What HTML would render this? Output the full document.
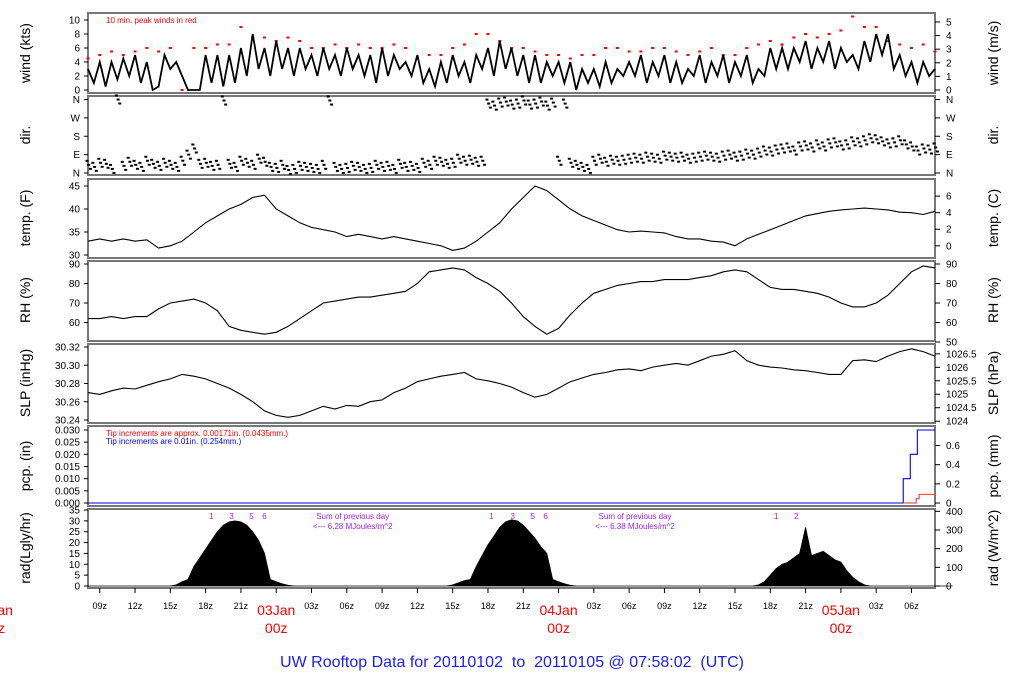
<!DOCTYPE html>
<html><head><meta charset="utf-8">
<style>
html,body{margin:0;padding:0;background:#fff;}
svg{display:block;font-family:"Liberation Sans",sans-serif;}
</style></head>
<body>
<svg id="chart" width="1024" height="700" viewBox="0 0 1024 700" xmlns="http://www.w3.org/2000/svg">
<rect x="0" y="0" width="1024" height="700" fill="#fff"/>
<g id="g"></g>
<text x="512" y="667" text-anchor="middle" font-size="16" fill="#1a1aff" style="white-space:pre" xml:space="preserve">UW Rooftop Data for 20110102  to  20110105 @ 07:58:02  (UTC)</text>
</svg>
<script>
// ---- data ----
const hourLabels = ["09z","12z","15z","18z","21z","00z","03z","06z","09z","12z","15z","18z","21z","00z","03z","06z","09z","12z","15z","18z","21z","00z","03z","06z"];
const dayLabels = ["02Jan","03Jan","04Jan","05Jan"];
const windKts = [3,1,4,0.5,4,1.5,4.5,2,5,1,4,0,0.5,5,3,4,2,0,0,0,5,
1,5,0.5,5,1,6,2,
8,3,6,2,7,3,6,2,6,3,5,2,6,
3,5,2,6,3,5,2,5,1,6,2,5,3,4,2,5,
1,3,0.5,4,1,5,2,4,1,5,3,6,
2,7,3,6,2,5,1,5,1,4,2,4,
1,4,0,3,1,3,0.5,4,1,3,2,4,
2,5,1,4,2,5,1,4,1,3,2,5,1,4,2,5,
1,4,2,5,1,3,2,6,3,6,
3,6,4,7,3,6,4,7,3,6,4,5,3,7,4,8,5,8,
3,5,2,4,1,4,2,3];
const gustKts = [4.5,5,5.5,5,5.5,6,5.5,6,0,6,6,
6.5,6.5,9,7.5,
7.5,7,7.5,7,6,6,
6.5,6,6.5,6,6,6.5,6,
4.5,5,5,6,6.5,8,
8,7,6,6,5.5,5,
5,4.5,5,5,6,6,5.5,
5.5,6,6,5.5,5,5.5,6,5,
5,6,6.5,7,6.5,
7.5,8,7.5,8,8.5,10.5,9,
9,7,6.5,6,6.5,5.5];
const dirDeg = [40,30,50,45,20,360,35,55,40,30,60,45,35,50,40,30,60,90,120,45,50,35,40,355,45,30,60,50,40,70,55,
30,25,40,15,20,35,30,25,20,40,355,30,20,25,35,30,20,25,40,30,35,20,45,30,35,25,
50,40,60,55,45,50,70,60,65,55,60,340,330,345,350,335,340,355,
335,340,350,330,345,60,340,50,40,30,20,60,70,55,65,60,
65,70,75,70,80,75,70,85,80,75,80,70,75,80,85,80,75,85,90,80,
85,95,90,100,110,105,115,120,125,110,130,135,125,140,130,145,150,135,140,155,
150,160,170,165,155,145,150,160,140,130,110,120,115,125];
const tempF = [33,33.5,33,33.5,33,33.3,31.5,32,33,35,37,38.5,40,41,42.5,43,40,38.5,37,36,35.5,35,34,34.5,34,33.5,34,33.5,33,32.5,32,31,31.5,33,35,37,40,42.5,45,44,42,40,38.5,37.5,36.5,35.5,35,35.2,35,34.8,34,33.5,33.5,33,32.8,32,33.5,34.5,35.5,36.5,37.5,38.5,39,39.5,39.8,40,40.2,40,39.8,39.3,39.2,38.8,39.5];
const rhPct = [62,62,63,62,63,63,67,70,71,72,70,66,58,56,55,54,55,58,62,66,70,71,72,73,73,74,75,76,80,86,87,88,87,83,80,76,70,63,58,54,57,64,70,75,77,79,80,81,81,82,82,82,83,84,86,87,86,82,78,77,77,76,75,73,70,68,68,70,74,80,86,89,88];
const slpInHg = [30.27,30.268,30.272,30.275,30.274,30.278,30.282,30.285,30.29,30.288,30.285,30.28,30.275,30.268,30.26,30.25,30.245,30.243,30.245,30.25,30.255,30.252,30.256,30.255,30.26,30.262,30.27,30.275,30.282,30.285,30.288,30.29,30.292,30.285,30.283,30.28,30.276,30.27,30.265,30.268,30.275,30.282,30.286,30.29,30.292,30.295,30.296,30.294,30.298,30.3,30.302,30.3,30.305,30.31,30.312,30.316,30.305,30.3,30.298,30.297,30.295,30.294,30.292,30.29,30.29,30.305,30.306,30.304,30.31,30.315,30.318,30.315,30.31];
const tipHoursBlue = [69.3,69.9,70.5];
const tipHoursRed = [70.4,70.65];
const tipRedMm = [0.045,0.045];
const radLgly = [0,0,0,0,0,0,0,0,0,0,0,0,0,0,0,0.5,2,3,9,13,17,21,25,28,29.5,30,29.5,28,25,21,15,3,2,1,0.3,0,
0,0,0,0,0,0,0,0,0,0,0,0,0,0,0,0,0,0,0,0,0,0,0,0,0,0,0.5,1.5,2.5,3,9,14,19,23,27,29.5,30.5,30,28,25,22,18,15,3,2,1,0.3,0,
0,0,0,0,0,0,0,0,0,0,0,0,0,0,0,0,0,0,0,0,0,0,0,0,0,0,0,0,0,0,0.5,2,5,8,10,11,13,15,27,14,15,16,14,12,11,7,4,2,0.5,0,
0,0,0,0,0,0,0,0,0,0,0,0,0,0];
const sunNumbers = ["1","3","5","6","1","3","5","6","1","2"];
const sunHours = [10.5,12.2,13.9,15.0,34.3,36.1,37.8,38.9,58.5,60.2];
const radSums = ["6.28","6.38"];

// ---- helpers ----
const NS="http://www.w3.org/2000/svg";
const G=document.getElementById('g');
function mk(tag,attrs,parent){const e=document.createElementNS(NS,tag);for(const k in attrs)e.setAttribute(k,attrs[k]);(parent||G).appendChild(e);return e;}
const X0=88,X1=935,HOURS=72;
function xh(h){return X0+h*(X1-X0)/HOURS;}
function lin(d0,d1,r0,r1){return v=>r0+(v-d0)*(r1-r0)/(d1-d0);}

const panels={
 wind:{t:13,b:93},dir:{t:96,b:175},temp:{t:179,b:258},rh:{t:261,b:341},
 slp:{t:344,b:423},pcp:{t:426,b:506},rad:{t:509,b:588}};
for(const k in panels){const p=panels[k];
 const r=mk('rect',{x:X0,y:p.t,width:X1-X0,height:p.b-p.t,fill:'none',stroke:'#777','stroke-width':2});
 
 
}
function leftTicks(vals,fy,fmt,name){vals.forEach((v,i)=>{const y=fy(v);
 mk('line',{x1:84,x2:X0,y1:y,y2:y,stroke:'#000'});
 const t=mk('text',{x:80,y:y+3.5,'text-anchor':'end','font-size':10});t.textContent=fmt(v,i);
 
 });}
function rightTicks(vals,fy,fmt,name){vals.forEach((v,i)=>{const y=fy(v);
 mk('line',{x1:X1,x2:X1+5,y1:y,y2:y,stroke:'#000'});
 const t=mk('text',{x:946,y:y+3.5,'font-size':10});t.textContent=fmt(v,i);
 
 });}
function title(x,yc,txt,name){const t=mk('text',{x:x,y:yc,'text-anchor':'middle','font-size':14,transform:`rotate(-90 ${x} ${yc})`});t.textContent=txt;
 
 }
function poly(vals,fx,fy,color,name,w){const d=vals.map((v,i)=>(i?'L':'M')+fx(i).toFixed(1)+','+fy(v).toFixed(1)).join('');
 const p=mk('path',{d:d,fill:'none',stroke:color,'stroke-width':w||1.1});
 
 return p;}

// wind
const yW=lin(0,10,90,20);
leftTicks([0,2,4,6,8,10],yW,v=>v,'wind');
rightTicks([0,1,2,3,4,5],v=>yW(v*1.944),v=>v,'wind-ms');
title(30,53,'wind (kts)','wind-y-axis-title');title(998,53,'wind (m/s)','wind-right-axis-title');
gustKts.forEach((v,i)=>{const r=mk('rect',{x:xh(i)-1.5,y:yW(v)-1,width:3,height:2,fill:'#f00'});
 
 });
poly(windKts,i=>xh(i/2),yW,'#000','wind-line',1.8);
const wl=mk('text',{x:106,y:23,'font-size':8,fill:'#f00'});wl.textContent='10 min. peak winds in red';



// dir
const yD=lin(0,360,173,99.5);
leftTicks([0,90,180,270,360],yD,(v,i)=>['N','E','S','W','N'][i],'dir');
rightTicks([0,90,180,270,360],yD,(v,i)=>['N','E','S','W','N'][i],'dir');
title(30,135,'dir.','dir-y-axis-title');title(998,135,'dir.','dir-right-axis-title');
dirDeg.forEach((v,i)=>{[-4,0,4].forEach((o,j)=>{const r=mk('rect',{x:xh(i/2)-2.5+j*1.7,y:yD(v)+o-1,width:3,height:2,fill:'#000'});
 
 });});

// temp
const yT=lin(30,45,255,186);
leftTicks([30,35,40,45],yT,v=>v,'temp');
rightTicks([0,2,4,6],v=>yT(v*1.8+32),v=>v,'temp-c');
title(30,218,'temp. (F)','temp-y-axis-title');title(998,218,'temp. (C)','temp-right-axis-title');
poly(tempF,i=>xh(i),yT,'#000','temp-line');

// RH
const yR=lin(50,90,342,264);
leftTicks([60,70,80,90],yR,v=>v,'rh');
rightTicks([50,60,70,80,90],yR,v=>v,'rh');
title(30,300,'RH (%)','rh-y-axis-title');title(998,300,'RH (%)','rh-right-axis-title');
poly(rhPct,i=>xh(i),yR,'#000','rh-line');

// SLP
const yS=lin(30.24,30.32,420,347);
leftTicks([30.24,30.26,30.28,30.30,30.32],yS,v=>v.toFixed(2),'slp');
rightTicks([1024,1024.5,1025,1025.5,1026,1026.5],v=>yS(v/33.8639),v=>v,'slp-hpa');
title(30,383,'SLP (inHg)','slp-y-axis-title');title(998,383,'SLP (hPa)','slp-right-axis-title');
poly(slpInHg,i=>xh(i),yS,'#000','slp-line');

// pcp
const yP=lin(0,0.03,503,430);
leftTicks([0,0.005,0.01,0.015,0.02,0.025,0.03],yP,v=>v.toFixed(3),'pcp');
rightTicks([0,0.2,0.4,0.6],v=>yP(v/25.4),v=>v,'pcp-mm');
title(30,466,'pcp. (in)','pcp-y-axis-title');title(998,466,'pcp. (mm)','pcp-right-axis-title');
(function(){let d='M'+X0+','+yP(0),c=0;tipHoursBlue.forEach(h=>{d+='L'+xh(h)+','+yP(c);c+=0.01;d+='L'+xh(h)+','+yP(c);});d+='L'+X1+','+yP(c);
 const p=mk('path',{d:d,fill:'none',stroke:'#00f','stroke-width':1.1});
 
 
 let d2='M'+xh(tipHoursBlue[0])+','+yP(0),c2=0;tipHoursRed.forEach((h,i)=>{d2+='L'+xh(h)+','+yP(c2/25.4);c2+=tipRedMm[i];d2+='L'+xh(h)+','+yP(c2/25.4);});d2+='L'+X1+','+yP(c2/25.4);
 const p2=mk('path',{d:d2,fill:'none',stroke:'#f33','stroke-width':1.1});
 
 })();
const n1=mk('text',{x:106,y:436,'font-size':8,fill:'#f00'});n1.textContent='Tip increments are approx. 0.00171in. (0.0435mm.)';


const n2=mk('text',{x:106,y:444,'font-size':8,fill:'#00f'});n2.textContent='Tip increments are 0.01in. (0.254mm.)';



// rad
const yA=lin(0,35,586,510);
leftTicks([0,5,10,15,20,25,30,35],yA,v=>v,'rad');
rightTicks([0,100,200,300,400],v=>yA(v/11.63),v=>v,'rad-wm2');
title(30,548,'rad(Lgly/hr)','rad-y-axis-title');title(998,548,'rad (W/m^2)','rad-right-axis-title');
(function(){let d='M'+xh(0)+','+yA(0);radLgly.forEach((v,i)=>{d+='L'+xh(i/2).toFixed(1)+','+yA(v).toFixed(1);});d+='L'+xh((radLgly.length-1)/2)+','+yA(0)+'Z';
 const p=mk('path',{d:d,fill:'#000',stroke:'#000','stroke-width':0.8});
 
 })();
sunNumbers.forEach((s,i)=>{const t=mk('text',{x:xh(sunHours[i]),y:519,'text-anchor':'middle','font-size':8,fill:'#a020f0'});t.textContent=s;
 
 });
radSums.forEach((s,i)=>{const xc=xh(22.5+i*24);
 const t1=mk('text',{x:xc,y:519,'text-anchor':'middle','font-size':8,fill:'#a020f0'});t1.textContent='Sum of previous day';
 
 
 const t2=mk('text',{x:xc,y:529,'text-anchor':'middle','font-size':8,fill:'#a020f0'});t2.textContent='<--- '+s+' MJoules/m^2';
 
 });

// time axis
hourLabels.forEach((s,i)=>{const h=1+i*3;const x=xh(h);
 mk('line',{x1:x,x2:x,y1:588,y2:593,stroke:'#000'});
 if(s==='00z')return;
 const t=mk('text',{x:x,y:609,'text-anchor':'middle','font-size':9});t.textContent=s;
 
 });
dayLabels.forEach((s,i)=>{const x=xh(-8+i*24);
 const t=mk('text',{x:x,y:615,'text-anchor':'middle','font-size':14,fill:'#f00'});t.textContent=s;
 
 
 const t2=mk('text',{x:x,y:633,'text-anchor':'middle','font-size':14,fill:'#f00'});t2.textContent='00z';
 
 });
</script>
</body></html>
